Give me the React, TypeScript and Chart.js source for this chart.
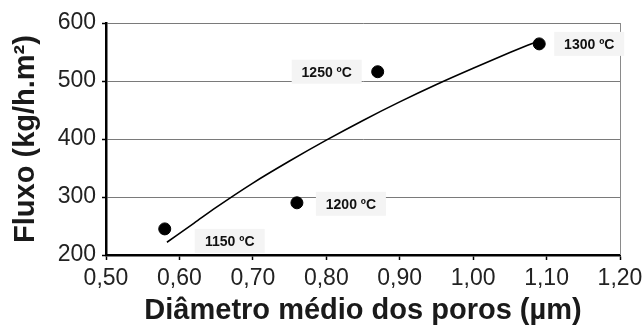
import React, { useEffect, useRef } from "react";
import { Chart, registerables } from "chart.js";

Chart.register(...registerables);

// ---- Data ----
const pointTemps = ["1150 ºC", "1200 ºC", "1250 ºC", "1300 ºC"];
const poreDiameter = [0.58, 0.76, 0.87, 1.09];
const flux = [245, 290, 516, 564];

// trend line
const trendDiameter = [0.583, 0.62, 0.65, 0.7, 0.75, 0.8, 0.85, 0.9, 0.95, 1.0, 1.05, 1.085];
const trendFlux = [222, 255, 282, 324, 362, 398, 432, 464, 494, 522, 549, 567];

const xMin = 0.5;
const xMax = 1.2;
const xStep = 0.1;
const yMin = 200;
const yMax = 600;
const yStep = 100;

const xTitle = "Diâmetro médio dos poros (µm)";
const yTitle = "Fluxo (kg/h.m²)";

const FAMILY = '"Liberation Sans", Arial, Helvetica, sans-serif';

// label placement (pixel offsets from each point) — styling only
const labelOffsets: [number, number][] = [
  [65, 12],
  [54, 1],
  [-51, 0],
  [50, 0],
];

const tempLabelPlugin = {
  id: "tempLabels",
  afterDatasetsDraw(chart: any) {
    const { ctx, chartArea, scales } = chart;
    const xs = scales.x;
    const ys = scales.y;
    ctx.save();
    // right frame line
    ctx.strokeStyle = "#8a8a8a";
    ctx.lineWidth = 1;
    ctx.beginPath();
    ctx.moveTo(chartArea.right + 0.5, chartArea.top);
    ctx.lineTo(chartArea.right + 0.5, chartArea.bottom);
    ctx.stroke();

    ctx.font = `bold 14px ${FAMILY}`;
    ctx.textAlign = "center";
    ctx.textBaseline = "middle";
    pointTemps.forEach((t, i) => {
      const px = xs.getPixelForValue(poreDiameter[i]) + labelOffsets[i][0];
      const py = ys.getPixelForValue(flux[i]) + labelOffsets[i][1];
      ctx.fillStyle = "#f4f4f4";
      ctx.fillRect(px - 35, py - 12, 70, 24);
      ctx.fillStyle = "#111";
      ctx.fillText(t, px, py + 1);
    });
    ctx.restore();
  },
};

export default function App() {
  const canvasRef = useRef<HTMLCanvasElement | null>(null);

  useEffect(() => {
    const canvas = canvasRef.current;
    if (!canvas) return;
    const chart = new Chart(canvas, {
      type: "scatter",
      data: {
        datasets: [
          {
            label: "Pontos",
            data: poreDiameter.map((d, i) => ({ x: d, y: flux[i] })),
            backgroundColor: "#000",
            borderColor: "#000",
            pointRadius: 6,
            pointHoverRadius: 6,
            showLine: false,
          },
          {
            label: "Tendência",
            data: trendDiameter.map((d, i) => ({ x: d, y: trendFlux[i] })),
            borderColor: "#000",
            backgroundColor: "#000",
            borderWidth: 1.6,
            pointRadius: 0,
            showLine: true,
            cubicInterpolationMode: "monotone",
          } as any,
        ],
      },
      options: {
        responsive: false,
        animation: false,
        maintainAspectRatio: false,
        layout: { padding: { top: 23, right: 24, left: 0, bottom: 0 } },
        plugins: {
          legend: { display: false },
          tooltip: { enabled: false },
        },
        scales: {
          x: {
            type: "linear",
            min: xMin,
            max: xMax,
            ticks: {
              stepSize: xStep,
              autoSkip: false,
              maxRotation: 0,
              padding: 5,
              color: "#222",
              font: { size: 23, family: FAMILY },
              callback: (v: any) => Number(v).toFixed(2).replace(".", ","),
            },
            grid: {
              drawOnChartArea: false,
              tickLength: 5,
              tickColor: "#000",
              tickWidth: 1.5,
            },
            border: { color: "#000", width: 2.5 },
            title: {
              display: true,
              text: xTitle,
              color: "#1a1a1a",
              font: { size: 29, weight: "bold", family: FAMILY, lineHeight: 1 },
              padding: { top: 0, bottom: 0 },
            },
            afterFit: (s: any) => {
              s.height = 70;
              s.paddingLeft = 0;
              s.paddingRight = 0;
            },
          },
          y: {
            type: "linear",
            min: yMin,
            max: yMax,
            ticks: {
              stepSize: yStep,
              padding: 6,
              color: "#222",
              font: { size: 23, family: FAMILY },
            },
            grid: {
              color: "#7a7a7a",
              lineWidth: 1,
              tickLength: 4,
              tickColor: "#000",
              tickWidth: 1.5,
            },
            border: { color: "#000", width: 2.5 },
            title: {
              display: true,
              text: yTitle,
              color: "#1a1a1a",
              font: { size: 29, weight: "bold", family: FAMILY, lineHeight: 1 },
              padding: { top: 11, bottom: 0 },
            },
            afterFit: (s: any) => {
              s.width = 106;
              s.paddingTop = 0;
              s.paddingBottom = 0;
            },
          },
        },
      },
      plugins: [tempLabelPlugin],
    });
    return () => chart.destroy();
  }, []);

  return (
    <div style={{ position: "fixed", left: 0, top: 0, width: 644, height: 325, background: "#fff" }}>
      <canvas ref={canvasRef} width={644} height={325} style={{ display: "block" }} />
    </div>
  );
}
